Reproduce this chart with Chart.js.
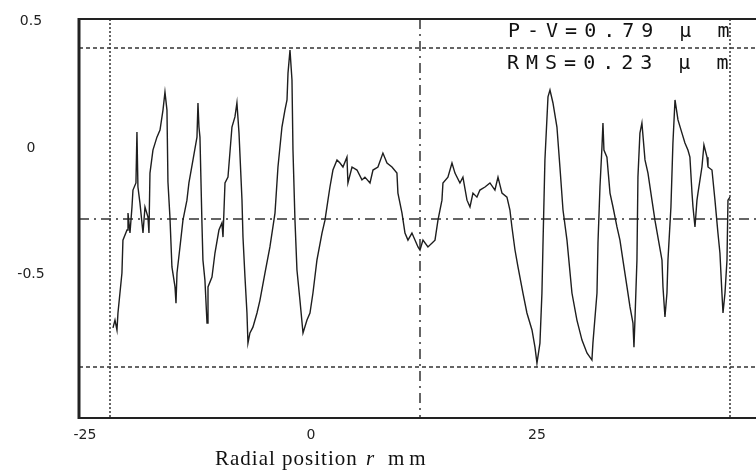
<!DOCTYPE html>
<html>
<head>
<meta charset="utf-8">
<title>Radial profile</title>
<script src="https://cdn.jsdelivr.net/npm/chart.js@4/dist/chart.umd.min.js"></script>
<style>
  html, body { margin: 0; padding: 0; background: #fff; }
  #wrap { width: 756px; height: 471px; position: relative; }
</style>
</head>
<body>
<div id="wrap"><canvas id="profile"></canvas></div>
<script>
// radial position (mm)
const radialPos = [
  -21.90,-21.68,-21.46,-21.35,-20.91,-20.80,-20.35,-20.24,-20.02,-19.80,
  -19.69,-19.36,-19.25,-19.14,-18.92,-18.58,-18.36,-18.03,-17.92,-17.81,
  -17.48,-17.04,-16.70,-16.37,-16.15,-15.93,-15.82,-15.60,-15.38,-15.04,
  -14.93,-14.82,-14.49,-14.16,-13.72,-13.50,-13.05,-12.61,-12.50,-12.39,
  -12.28,-12.06,-11.95,-11.73,-11.50,-11.39,-10.95,-10.62,-10.18,-9.85,
  -9.73,-9.51,-9.18,-8.74,-8.41,-8.19,-7.96,-7.63,-7.52,-7.30,
  -7.08,-6.97,-6.75,-6.42,-5.97,-5.64,-5.09,-4.54,-3.98,-3.65,
  -3.21,-2.88,-2.65,-2.54,-2.32,-2.10,-1.99,-1.77,-1.55,-1.22,
  -0.88,-0.44,-0.11,0.22,0.66,1.22,1.55,1.88,2.10,2.43,
  2.88,3.21,3.54,3.98,4.09,4.54,5.09,5.64,5.97,6.53,
  6.86,7.41,7.96,8.41,8.96,9.51,9.62,10.07,10.40,10.73,
  11.17,11.84,12.06,12.39,12.94,13.72,14.05,14.49,14.60,15.15,
  15.60,15.93,16.48,16.81,17.26,17.59,17.92,18.36,18.69,19.25,
  19.80,20.35,20.69,21.13,21.68,22.01,22.23,22.57,22.90,23.45,
  23.89,24.45,24.78,25.00,25.33,25.55,25.66,25.88,26.22,26.44,
  26.77,27.21,27.54,27.88,28.32,28.87,29.42,29.98,30.53,31.08,
  31.19,31.64,31.75,31.97,32.19,32.30,32.41,32.74,33.08,33.41,
  33.85,34.18,34.51,34.96,35.29,35.62,35.73,35.84,36.06,36.17,
  36.39,36.61,36.95,37.28,37.72,38.05,38.38,38.83,38.94,39.16,
  39.38,39.49,39.82,40.04,40.27,40.60,41.04,41.37,41.70,41.92,
  42.15,42.26,42.48,42.70,42.81,43.25,43.47,43.81,43.92,44.36,
  44.69,45.02,45.24,45.46,45.58,45.80,46.02,46.13,46.35
];

// surface height (um), one value per radial position
const surfaceHeight = [
  -0.711,-0.680,-0.719,-0.652,-0.494,-0.364,-0.324,-0.257,-0.336,-0.233,
  -0.166,-0.138,0.063,-0.154,-0.217,-0.336,-0.233,-0.273,-0.336,-0.099,
  -0.008,0.043,0.071,0.150,0.221,0.150,-0.134,-0.273,-0.470,-0.549,
  -0.613,-0.494,-0.391,-0.285,-0.206,-0.138,-0.047,0.043,0.178,0.083,
  0.043,-0.296,-0.443,-0.522,-0.692,-0.549,-0.510,-0.415,-0.324,-0.296,
  -0.352,-0.138,-0.115,0.083,0.123,0.178,0.059,-0.206,-0.352,-0.510,
  -0.652,-0.771,-0.731,-0.708,-0.652,-0.601,-0.494,-0.391,-0.257,-0.075,
  0.083,0.150,0.190,0.296,0.387,0.269,-0.008,-0.285,-0.482,-0.601,
  -0.731,-0.680,-0.652,-0.573,-0.443,-0.336,-0.285,-0.206,-0.154,-0.087,
  -0.047,-0.059,-0.075,-0.036,-0.138,-0.075,-0.087,-0.126,-0.115,-0.138,
  -0.087,-0.075,-0.020,-0.059,-0.075,-0.099,-0.178,-0.257,-0.336,-0.364,
  -0.336,-0.391,-0.403,-0.364,-0.391,-0.364,-0.285,-0.206,-0.138,-0.115,
  -0.059,-0.099,-0.138,-0.115,-0.206,-0.233,-0.178,-0.194,-0.166,-0.154,
  -0.138,-0.166,-0.115,-0.178,-0.194,-0.245,-0.312,-0.403,-0.470,-0.573,
  -0.652,-0.719,-0.787,-0.850,-0.771,-0.573,-0.391,-0.047,0.202,0.229,
  0.178,0.083,-0.075,-0.245,-0.364,-0.573,-0.680,-0.759,-0.810,-0.838,
  -0.771,-0.573,-0.375,-0.154,0.004,0.099,-0.008,-0.036,-0.178,-0.233,
  -0.312,-0.364,-0.443,-0.549,-0.628,-0.692,-0.787,-0.680,-0.443,-0.115,
  0.059,0.099,-0.047,-0.099,-0.206,-0.285,-0.352,-0.443,-0.549,-0.668,
  -0.573,-0.443,-0.233,0.020,0.190,0.111,0.059,0.020,-0.008,-0.036,
  -0.178,-0.233,-0.312,-0.206,-0.178,-0.075,0.012,-0.036,-0.075,-0.087,
  -0.206,-0.336,-0.415,-0.573,-0.652,-0.573,-0.443,-0.206,-0.194
];

const xTicks = [-25, 0, 25];
const yTicks = [0.5, 0, -0.5];

// guide lines
const edgeLines = [-22.23, 46.35];   // sample edges (dotted, vertical)
const centerLine = 12.06;            // sample centre (dash-dot, vertical)
const pvLines = [0.395, -0.866];     // peak / valley (dotted, horizontal)
const meanLine = -0.281;             // mean level (dash-dot, horizontal)

const statLines = ['P-V=0.79 \u03bc m', 'RMS=0.23 \u03bc m'];

function strokeLine(ctx, x1, y1, x2, y2) {
    ctx.beginPath();
    ctx.moveTo(x1, y1);
    ctx.lineTo(x2, y2);
    ctx.stroke();
}

const guides = {
    id: 'guides',
    beforeDatasetsDraw(chart) {
        const { ctx, chartArea: a, scales: { x, y } } = chart;
        ctx.save();
        ctx.strokeStyle = '#333';
        ctx.lineWidth = 1.5;

        ctx.setLineDash([2, 2]);
        edgeLines.forEach(v => {
            const px = Math.round(x.getPixelForValue(v));
            strokeLine(ctx, px, a.top, px, a.bottom);
        });

        ctx.setLineDash([4, 3]);
        pvLines.forEach(v => {
            const py = Math.round(y.getPixelForValue(v));
            strokeLine(ctx, a.left, py, a.right, py);
        });

        ctx.setLineDash([10, 5, 2, 5]);
        const cx = Math.round(x.getPixelForValue(centerLine));
        strokeLine(ctx, cx, a.top, cx, a.bottom);
        const my = Math.round(y.getPixelForValue(meanLine));
        strokeLine(ctx, a.left, my, a.right, my);
        ctx.restore();
    },
    afterDraw(chart) {
        const { ctx, chartArea: a, scales: { y } } = chart;
        ctx.save();
        // frame (left, top, bottom)
        ctx.strokeStyle = '#222';
        ctx.lineWidth = 3;
        strokeLine(ctx, a.left, a.top - 1, a.left, a.bottom + 1);
        ctx.lineWidth = 2;
        strokeLine(ctx, a.left, a.top, a.right, a.top);
        strokeLine(ctx, a.left, a.bottom, a.right, a.bottom);

        // y tick labels, centred in the left margin
        ctx.fillStyle = '#222';
        ctx.font = '14px "DejaVu Sans"';
        ctx.textAlign = 'center';
        ctx.textBaseline = 'middle';
        yTicks.forEach(v => {
            ctx.fillText(String(v), 31, y.getPixelForValue(v));
        });

        // P-V / RMS readout
        ctx.textAlign = 'left';
        ctx.fillStyle = '#111';
        ctx.font = '20px "DejaVu Sans Mono"';
        ctx.letterSpacing = '7px';
        ctx.fillText(statLines[0], 508, 32);
        ctx.fillText(statLines[1], 507, 64);

        // axis title
        ctx.letterSpacing = '1px';
        ctx.font = '21px "Liberation Serif"';
        ctx.fillText('Radial position', 215, 459);
        ctx.font = 'italic 21px "Liberation Serif"';
        ctx.fillText('r', 366, 459);
        ctx.letterSpacing = '5px';
        ctx.font = '21px "Liberation Serif"';
        ctx.fillText('mm', 388, 459);
        ctx.restore();
    }
};

new Chart(document.getElementById('profile'), {
    type: 'line',
    data: {
        datasets: [{
            data: radialPos.map((r, i) => ({ x: r, y: surfaceHeight[i] })),
            borderColor: '#1e1e1e',
            borderWidth: 1.4,
            pointRadius: 0,
            tension: 0,
            fill: false
        }]
    },
    options: {
        responsive: true,
        maintainAspectRatio: false,
        animation: false,
        layout: { padding: { top: 19, right: 0, bottom: 0, left: 0 } },
        plugins: { legend: { display: false }, tooltip: { enabled: false } },
        scales: {
            x: {
                type: 'linear',
                min: -25.66,
                max: 49.23,
                grid: { display: false, drawTicks: false },
                border: { display: false },
                afterBuildTicks: s => { s.ticks = xTicks.map(v => ({ value: v })); },
                afterFit: s => { s.height = 53; },
                ticks: {
                    font: { family: 'DejaVu Sans', size: 14 },
                    color: '#222',
                    padding: 9,
                    maxRotation: 0,
                    autoSkip: false,
                    callback: v => String(v)
                }
            },
            y: {
                min: -1.067,
                max: 0.51,
                grid: { display: false, drawTicks: false },
                border: { display: false },
                afterBuildTicks: s => { s.ticks = yTicks.map(v => ({ value: v })); },
                afterFit: s => { s.width = 79; },
                ticks: { display: false }
            }
        }
    },
    plugins: [guides]
});
</script>
</body>
</html>
